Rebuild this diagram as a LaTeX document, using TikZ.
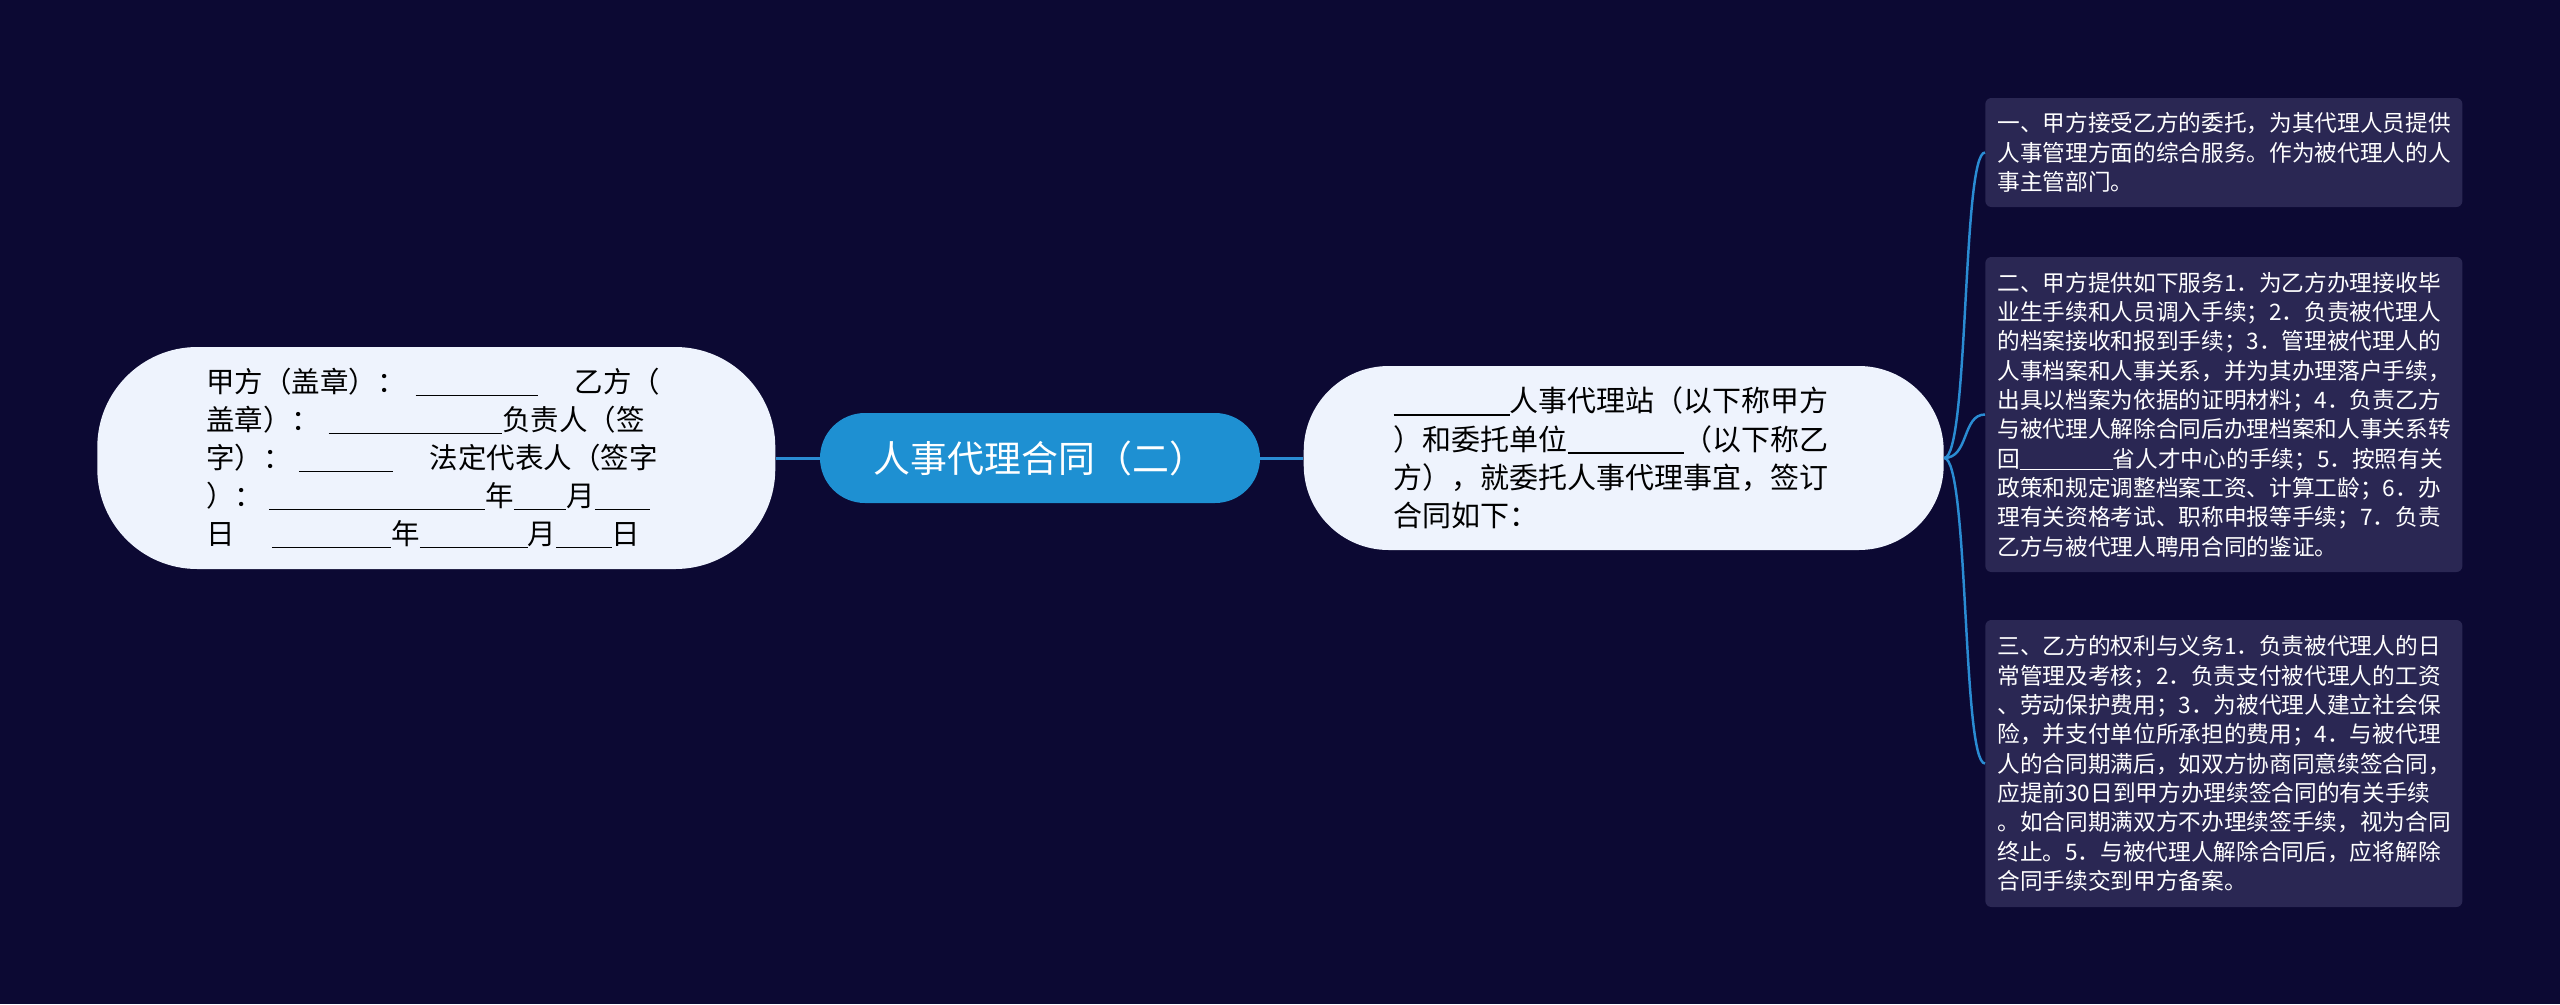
\documentclass[tikz,border=0pt]{standalone}
\usepackage{fontspec}
\setmainfont{Noto Sans CJK SC}
\usetikzlibrary{positioning}
\definecolor{bgnavy}{HTML}{0C0933}
\definecolor{rootblue}{HTML}{1E90D2}
\definecolor{paleblue}{HTML}{EEF3FD}
\definecolor{boxpurple}{HTML}{2A2753}
\definecolor{linkblue}{HTML}{2A8CD3}
\newcommand{\lineblank}[1]{\rule[-0.13em]{#1em}{0.05em}}

\begin{document}
\begin{tikzpicture}[
    root/.style={fill=rootblue, text=white, rounded corners=0.9cm, minimum width=8.8cm, minimum height=1.8cm, inner sep=0pt, font=\fontsize{21}{25}\selectfont},
    topic/.style={fill=paleblue, text=black, align=left, inner sep=0pt, font=\fontsize{16.2}{21.6}\selectfont},
    leaf/.style={fill=boxpurple, text=white, align=left, rounded corners=0.12cm, inner xsep=0.24cm, inner ysep=0pt, text width=9.06cm, anchor=west, font=\fontsize{12.9}{16.7}\selectfont},
    link/.style={draw=linkblue, line width=1.7pt},
    branch/.style={draw=linkblue, line width=1.4pt}
  ]
        \fill[bgnavy] (0,0) rectangle (51.2,-20.08);
        \useasboundingbox (0,0) rectangle (51.2,-20.08);

        \node[root] (r) at (20.8,-9.16) {人事代理合同（二）};
        \node[topic, left=0.88cm of r, minimum width=13.56cm, minimum height=4.44cm, text width=9.2cm, rounded corners=2cm] (a) {%
            甲方（盖章）：\hspace{0.35em}\lineblank{4.3}\hspace{1.3em}乙方（\\
            盖章）：\hspace{0.3em}\lineblank{6.1}负责人（签\\
            字）：\hspace{0.25em}\lineblank{3.3}\hspace{1.3em}法定代表人（签字\\
            ）：\hspace{0.2em}\lineblank{7.6}年\lineblank{1.85}月\lineblank{1.95}\\
            日\hspace{1.3em}\lineblank{4.2}年\lineblank{3.8}月\lineblank{1.95}日};
        \node[topic, right=0.86cm of r, minimum width=12.8cm, minimum height=3.68cm, text width=9.2cm, rounded corners=1.7cm, font=\fontsize{16.5}{21.8}\selectfont] (b) {%
            \lineblank{4}人事代理站（以下称甲方\\
            ）和委托单位\lineblank{4}（以下称乙\\
            方），就委托人事代理事宜，签订\\
            合同如下：};

        \node[leaf, minimum height=2.18cm] (c) at (39.7,-3.05) {%
            一、甲方接受乙方的委托，为其代理人员提供\\
            人事管理方面的综合服务。作为被代理人的人\\
            事主管部门。};
        \node[leaf, minimum height=6.3cm] (d) at (39.7,-8.29) {%
            二、甲方提供如下服务1．为乙方办理接收毕\\
            业生手续和人员调入手续；2．负责被代理人\\
            的档案接收和报到手续；3．管理被代理人的\\
            人事档案和人事关系，并为其办理落户手续，\\
            出具以档案为依据的证明材料；4．负责乙方\\
            与被代理人解除合同后办理档案和人事关系转\\
            回\lineblank{4.1}省人才中心的手续；5．按照有关\\
            政策和规定调整档案工资、计算工龄；6．办\\
            理有关资格考试、职称申报等手续；7．负责\\
            乙方与被代理人聘用合同的鉴证。};
        \node[leaf, minimum height=5.74cm] (e) at (39.7,-15.27) {%
            三、乙方的权利与义务1．负责被代理人的日\\
            常管理及考核；2．负责支付被代理人的工资\\
            、劳动保护费用；3．为被代理人建立社会保\\
            险，并支付单位所承担的费用；4．与被代理\\
            人的合同期满后，如双方协商同意续签合同，\\
            应提前30日到甲方办理续签合同的有关手续\\
            。如合同期满双方不办理续签手续，视为合同\\
            终止。5．与被代理人解除合同后，应将解除\\
            合同手续交到甲方备案。};

        \draw[link] (a.east) -- (r.west);
        \draw[link] (r.east) -- (b.west);
        \draw[branch] (b.east) to[out=0, in=180, out distance=0.5cm, in distance=0.46cm] (c.west);
        \draw[branch] (b.east) to[out=0, in=180, out distance=0.5cm, in distance=0.46cm] (d.west);
        \draw[branch] (b.east) to[out=0, in=180, out distance=0.5cm, in distance=0.46cm] (e.west);
\end{tikzpicture}
\end{document}
